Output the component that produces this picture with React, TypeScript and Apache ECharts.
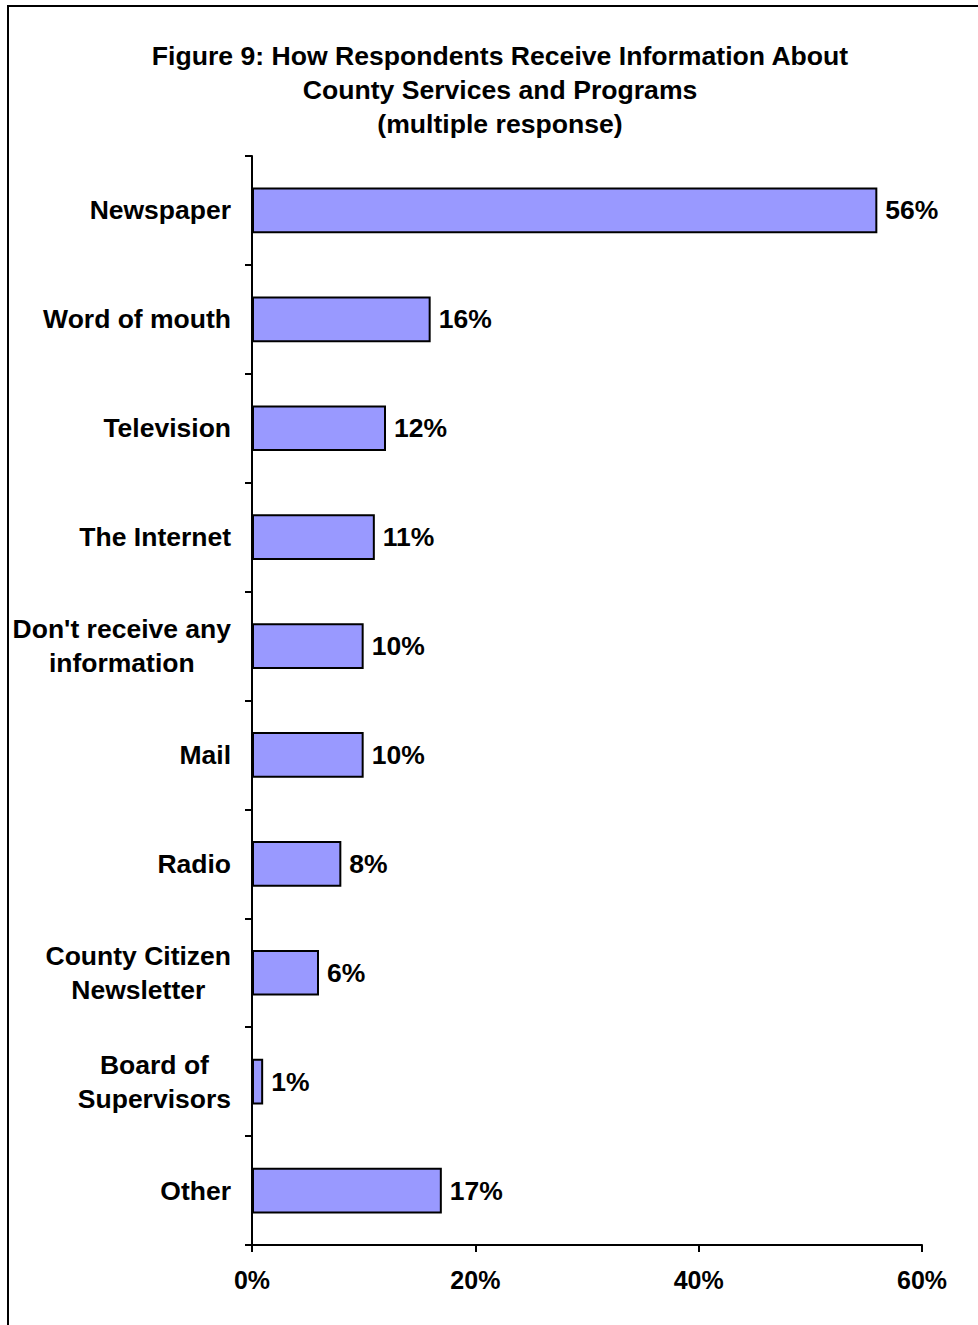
import React, { useEffect, useRef } from "react";
import * as echarts from "echarts";

const categories = [
  "Newspaper",
  "Word of mouth",
  "Television",
  "The Internet",
  "Don't receive any\ninformation",
  "Mail",
  "Radio",
  "County Citizen\nNewsletter",
  "Board of\nSupervisors",
  "Other",
];
const values = [56, 16, 12, 11, 10, 10, 8, 6, 1, 17];
const xTicks = [0, 20, 40, 60];
const titleLines = [
  "Figure 9: How Respondents Receive Information About",
  "County Services and Programs",
  "(multiple response)",
];

const FONT = "Arial, 'Liberation Sans', Helvetica, sans-serif";

export default function App() {
  const ref = useRef<HTMLDivElement>(null);
  useEffect(() => {
    if (!ref.current) return;
    const chart = echarts.init(ref.current, undefined, { renderer: "svg" });
    chart.setOption({
      animation: false,
      backgroundColor: "#ffffff",
      textStyle: { fontFamily: FONT },
      graphic: [
        {
          type: "rect",
          shape: { x: 8, y: 6, width: 1100, height: 1500 },
          style: { fill: "none", stroke: "#000", lineWidth: 2 },
          silent: true,
        },
        {
          type: "text",
          x: 500,
          y: 39,
          style: {
            text: titleLines.join("\n"),
            textAlign: "center",
            textVerticalAlign: "top",
            font: `bold 26.6px ${FONT}`,
            lineHeight: 34,
            fill: "#000",
          },
        },
      ],
      grid: { left: 252, right: 56, top: 156, bottom: 80, containLabel: false },
      xAxis: {
        type: "value",
        min: 0,
        max: 60,
        interval: 20,
        axisLine: { show: true, lineStyle: { color: "#000", width: 2 } },
        axisTick: { show: true, length: 7, lineStyle: { color: "#000", width: 2 } },
        splitLine: { show: false },
        axisLabel: {
          margin: 22,
          color: "#000",
          fontWeight: "bold",
          fontSize: 25,
          fontFamily: FONT,
          formatter: (v: number) => (xTicks.includes(v) ? `${v}%` : ""),
        },
      },
      yAxis: {
        type: "category",
        data: categories,
        inverse: true,
        axisLine: { show: true, lineStyle: { color: "#000", width: 2 } },
        axisTick: { show: true, length: 7, lineStyle: { color: "#000", width: 2 } },
        axisLabel: {
          margin: 21,
          color: "#000",
          align: "right",
          fontWeight: "bold",
          fontSize: 26.5,
          fontFamily: FONT,
          lineHeight: 34,
          formatter: (v: string) =>
            v
              .split("\n")
              .map((l) => `{c|${l}}`)
              .join("\n"),
          rich: {
            c: {
              align: "center",
              fontWeight: "bold",
              fontSize: 26.5,
              fontFamily: FONT,
              lineHeight: 34,
              color: "#000",
            },
          },
        },
      },
      series: [
        {
          type: "bar",
          data: values,
          barWidth: "42%",
          itemStyle: { color: "#9999ff", borderColor: "#000", borderWidth: 2 },
          label: {
            show: true,
            position: "right",
            distance: 8,
            formatter: "{c}%",
            color: "#000",
            fontWeight: "bold",
            fontSize: 26.5,
            fontFamily: FONT,
          },
        },
      ],
    });
    return () => chart.dispose();
  }, []);
  return (
    <div
      ref={ref}
      style={{ position: "absolute", left: 0, top: 0, width: 978, height: 1325 }}
    />
  );
}
